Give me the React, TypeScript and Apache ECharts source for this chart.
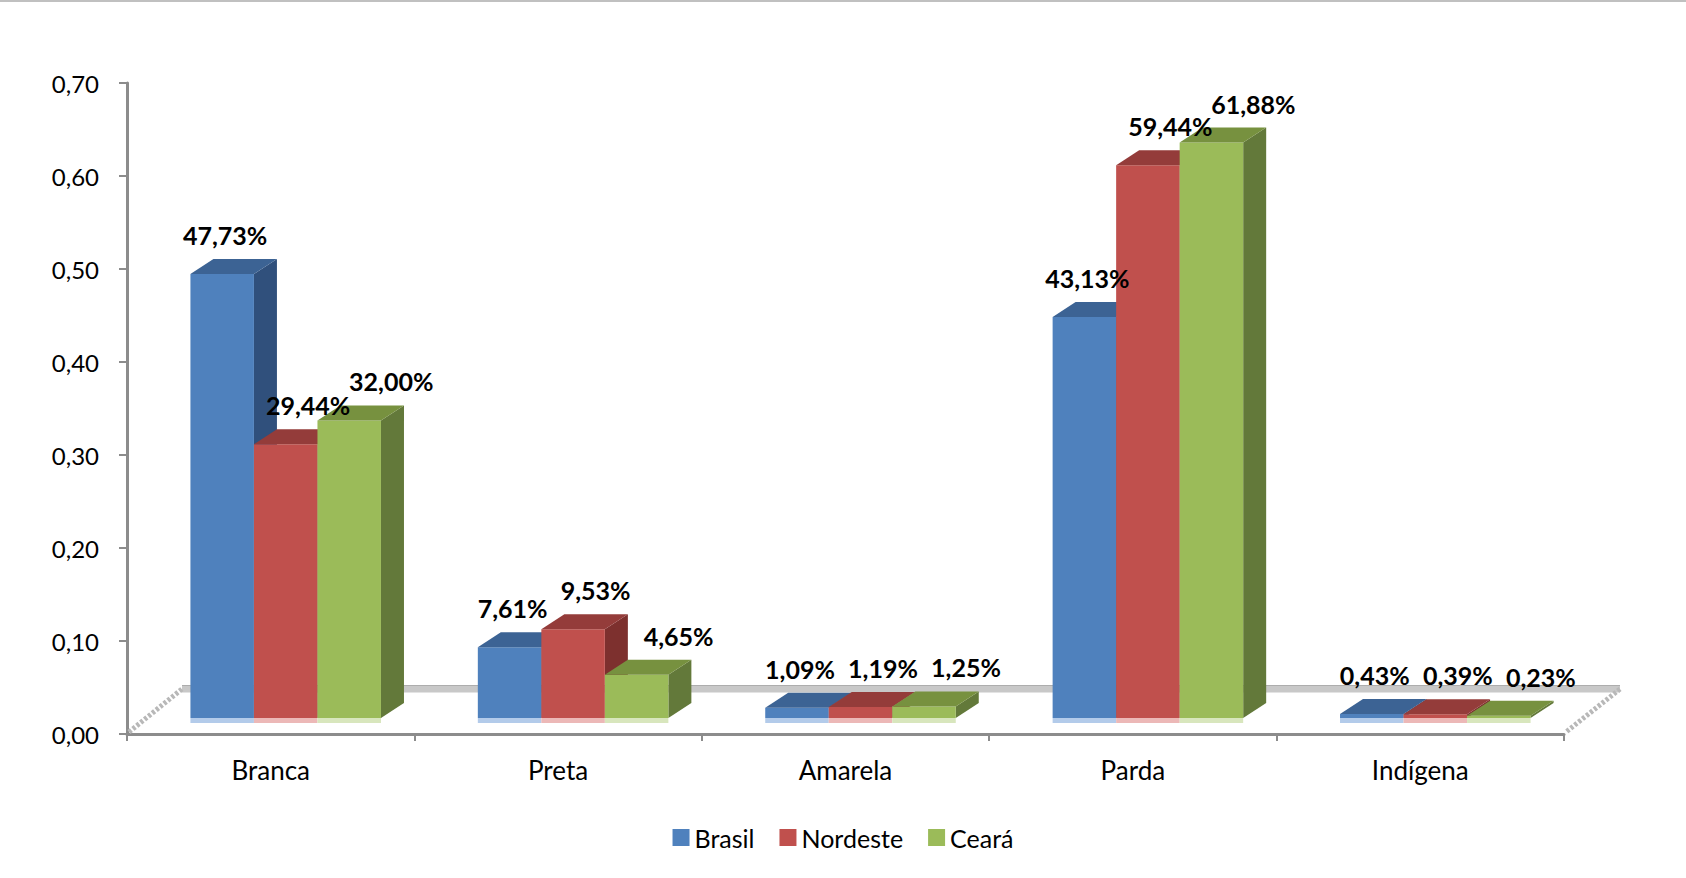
import React, { useEffect, useRef } from "react";
import * as echarts from "echarts";

const categories = ["Branca", "Preta", "Amarela", "Parda", "Indígena"];
const seriesNames = ["Brasil", "Nordeste", "Ceará"];
const brasil = [0.4773, 0.0761, 0.0109, 0.4313, 0.0043];
const nordeste = [0.2944, 0.0953, 0.0119, 0.5944, 0.0039];
const ceara = [0.32, 0.0465, 0.0125, 0.6188, 0.0023];
const yMin = 0;
const yMax = 0.7;
const yInterval = 0.1;

const seriesValues = [brasil, nordeste, ceara];
const frontColors = ["#4F81BD", "#C0504D", "#9BBB59"];
const topColors = ["#3C6394", "#943C3A", "#77913F"];
const sideColors = ["#30507C", "#7D302E", "#63793A"];
const stripColors = ["#B3CBEA", "#ECB8B7", "#D8E6BD"];

const FONT = "Lato, 'Open Sans', sans-serif";

// 3D look constants
const PLANE_DX = 15; // bar front plane offset from axis front plane
const PLANE_DY = 16;
const BAR_DX = 23; // bar depth
const BAR_DY = 15;
const FLOOR_DX = 55;
const FLOOR_DY = 45;
const LABEL_DX0 = 3; // perspective spread of the data labels
const LABEL_DX_STEP = 19.5;
const LABEL_DY = 24;

function fmtPct(v: number) {
  return (v * 100).toFixed(2).replace(".", ",") + "%";
}

export default function App() {
  const ref = useRef<HTMLDivElement>(null);
  useEffect(() => {
    document.body.style.margin = "0";
    if (!ref.current) return;
    const chart = echarts.init(ref.current, undefined, { renderer: "svg" });

    const floorSeries: any = {
      type: "custom",
      name: "floor",
      silent: true,
      data: [[0, 0]],
      encode: { x: 0, y: 1 },
      renderItem: (params: any) => {
        const cs = params.coordSys;
        const gx = cs.x;
        const gr = cs.x + cs.width;
        const gb = cs.y + cs.height;
        return {
          type: "group",
          children: [
            {
              type: "polyline",
              shape: {
                points: [
                  [gx + FLOOR_DX, gb - FLOOR_DY],
                  [gr + FLOOR_DX + 1, gb - FLOOR_DY],
                ],
              },
              style: { stroke: "#C8C8C8", lineWidth: 7, fill: null },
            },
            {
              type: "polyline",
              shape: {
                points: [
                  [gx + FLOOR_DX, gb - FLOOR_DY - 3.5],
                  [gr + FLOOR_DX + 1, gb - FLOOR_DY - 3.5],
                ],
              },
              style: { stroke: "#ADADAD", lineWidth: 1, fill: null },
            },
            {
              type: "polyline",
              shape: {
                points: [
                  [gx + 2, gb - 2],
                  [gx + FLOOR_DX, gb - FLOOR_DY],
                ],
              },
              style: { stroke: "#B8B8B8", lineWidth: 5, lineDash: [3, 2], fill: null },
            },
            {
              type: "polyline",
              shape: {
                points: [
                  [gr + FLOOR_DX + 1, gb - FLOOR_DY],
                  [gr + 2, gb - 2],
                ],
              },
              style: { stroke: "#B8B8B8", lineWidth: 5, lineDash: [3, 2], fill: null },
            },
          ],
        };
      },
    };

    const barSeries = seriesValues.map((vals, s) => ({
      type: "custom",
      name: seriesNames[s],
      itemStyle: { color: frontColors[s] },
      data: vals.map((v, i) => [i, v]),
      encode: { x: 0, y: 1 },
      renderItem: (params: any, api: any) => {
        const ci = api.value(0);
        const v = api.value(1);
        const p = api.coord([ci, v]);
        const p0 = api.coord([ci, 0]);
        const catW = api.size([1, 0])[0];
        const w = catW * 0.221;
        const cx = p[0];
        const L = cx + PLANE_DX - 1.5 * w + s * w;
        const R = L + w;
        const top = p[1] - PLANE_DY;
        const bottom = p0[1] - PLANE_DY;
        return {
          type: "group",
          children: [
            {
              type: "rect",
              shape: { x: L, y: bottom, width: w, height: 5 },
              style: { fill: stripColors[s] },
            },
            {
              type: "polygon",
              shape: {
                points: [
                  [R, top],
                  [R + BAR_DX, top - BAR_DY],
                  [R + BAR_DX, bottom - BAR_DY],
                  [R, bottom],
                ],
              },
              style: { fill: sideColors[s] },
            },
            {
              type: "rect",
              shape: { x: L, y: top, width: w, height: bottom - top },
              style: { fill: frontColors[s] },
            },
            {
              type: "polygon",
              shape: {
                points: [
                  [L, top],
                  [L + BAR_DX, top - BAR_DY],
                  [R + BAR_DX, top - BAR_DY],
                  [R, top],
                ],
              },
              style: { fill: topColors[s] },
            },
            {
              type: "text",
              z2: 100,
              style: {
                text: fmtPct(v),
                x: L + w / 2 + LABEL_DX0 + s * LABEL_DX_STEP,
                y: top - BAR_DY - LABEL_DY,
                align: "center",
                verticalAlign: "middle",
                fill: "#000",
                font: `bold 25px ${FONT}`,
              },
            },
          ],
        };
      },
    }));

    chart.setOption({
      animation: false,
      color: frontColors,
      textStyle: { fontFamily: FONT },
      grid: { left: 127, right: 122, top: 83, bottom: 144, containLabel: false },
      legend: {
        data: seriesNames.map((n, i) => ({ name: n, itemStyle: { color: frontColors[i] } })),
        left: "center",
        top: 820,
        icon: "rect",
        itemWidth: 17,
        itemHeight: 17,
        itemGap: 25,
        selectedMode: false,
        textStyle: { fontFamily: FONT, fontSize: 25, color: "#000", padding: [0, 0, 0, 0] },
      },
      xAxis: {
        type: "category",
        data: categories,
        boundaryGap: true,
        axisLine: { show: true, lineStyle: { color: "#8C8C8C", width: 3 } },
        axisTick: { show: true, length: 7, lineStyle: { color: "#8C8C8C", width: 2 } },
        axisLabel: { fontFamily: FONT, fontSize: 26, color: "#000", margin: 23 },
        splitLine: { show: false },
      },
      yAxis: {
        type: "value",
        min: yMin,
        max: yMax,
        interval: yInterval,
        axisLine: { show: true, lineStyle: { color: "#8C8C8C", width: 3 } },
        axisTick: { show: true, length: 8, lineStyle: { color: "#8C8C8C", width: 2 } },
        axisLabel: {
          fontFamily: FONT,
          fontSize: 24,
          color: "#000",
          margin: 28,
          formatter: (v: number) => v.toFixed(2).replace(".", ","),
        },
        splitLine: { show: false },
      },
      graphic: [
        {
          type: "rect",
          left: 0,
          top: 0,
          shape: { width: 1686, height: 2 },
          style: { fill: "#C0C0C0" },
          silent: true,
        },
      ],
      series: [floorSeries, ...barSeries],
    });
    return () => chart.dispose();
  }, []);
  return <div ref={ref} style={{ width: 1686, height: 878 }} />;
}
